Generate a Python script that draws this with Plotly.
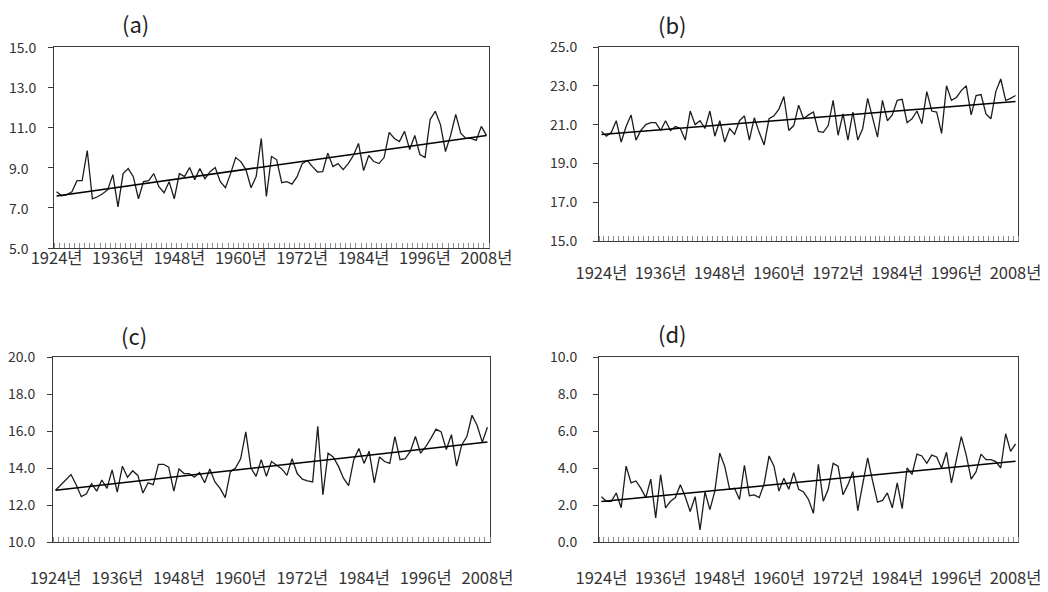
import numpy as np
import plotly.graph_objects as go

# ---------------- data ----------------
YEARS = list(range(1924, 2009))
LABEL_YEARS = [1924, 1936, 1948, 1960, 1972, 1984, 1996, 2008]
LABEL_TEXT = [f"{y}년" for y in LABEL_YEARS]
PANEL_TITLES = ["(a)", "(b)", "(c)", "(d)"]
Y_RANGES = [(5.0, 15.0), (15.0, 25.0), (10.0, 20.0), (0.0, 10.0)]

SERIES_A = [7.8, 7.6, 7.65, 7.8, 8.35, 8.35, 9.85, 7.45, 7.55, 7.7,
            7.9, 8.65, 7.05, 8.7, 8.95, 8.55, 7.45, 8.3, 8.35, 8.7,
            8.05, 7.75, 8.3, 7.45, 8.7, 8.55, 9.0, 8.4, 8.95, 8.45,
            8.8, 9.0, 8.3, 8.0, 8.7, 9.5, 9.3, 8.9, 8.0, 8.55,
            10.45,
            7.57, 9.55, 9.4, 8.25, 8.3, 8.18, 8.55, 9.2, 9.35, 9.05,
            8.78, 8.8, 9.72, 9.05, 9.2, 8.9, 9.2, 9.6, 10.2, 8.85,
            9.6, 9.3, 9.2, 9.5, 10.75, 10.45, 10.3, 10.8, 9.9, 10.6,
            9.65, 9.5, 11.4, 11.8, 11.15, 9.8, 10.6, 11.65, 10.7, 10.45,
            10.45, 10.35, 11.05, 10.6]

SERIES_B = [20.65, 20.4, 20.6, 21.2, 20.1, 20.9, 21.5, 20.2, 20.7, 21.0,
            21.1, 21.1, 20.7, 21.2, 20.7, 20.9, 20.8, 20.2, 21.7, 21.0,
            21.2, 20.8, 21.7, 20.4, 21.2, 20.1, 20.8, 20.5, 21.2, 21.45,
            20.2, 21.35, 20.6, 19.95, 21.3, 21.45, 21.8, 22.45,
            20.7, 20.95, 22.0, 21.3, 21.5, 21.65, 20.65, 20.6, 20.95, 22.25,
            20.45, 21.55, 20.2, 21.65, 20.2, 20.8, 22.35, 21.4, 20.35, 22.25,
            21.2, 21.5, 22.25, 22.3, 21.1, 21.3, 21.7, 21.05, 22.7, 21.7,
            21.65, 20.55, 23.0, 22.25, 22.4, 22.75, 23.0, 21.5, 22.5, 22.55,
            21.55, 21.3, 22.7, 23.35, 22.25, 22.35, 22.5]

SERIES_C = [12.8, 13.1, 13.4, 13.65, 13.1, 12.45, 12.6, 13.15, 12.75, 13.35,
            12.9, 13.9, 12.7, 14.1, 13.5, 13.85, 13.6, 12.65, 13.2, 13.1,
            14.2, 14.2, 14.05, 12.75, 13.95, 13.7, 13.7, 13.5, 13.75, 13.2,
            13.95, 13.25, 12.9, 12.4, 13.8, 14.0, 14.5, 15.95,
            14.0, 13.55, 14.45, 13.55, 14.35, 14.15, 13.95, 13.6, 14.5, 13.7,
            13.4, 13.3, 13.25, 16.25, 12.55, 14.8, 14.6, 14.1, 13.45, 13.05,
            14.45, 15.05, 14.25, 14.9, 13.2, 14.6, 14.35, 14.25, 15.7, 14.45,
            14.5, 14.9, 15.7, 14.8, 15.15, 15.6, 16.1, 15.95, 15.0, 15.8,
            14.1, 15.25, 15.7, 16.85, 16.3, 15.4, 16.2]

SERIES_D = [2.45, 2.2, 2.2, 2.65, 1.85, 4.1, 3.2, 3.3, 2.9, 2.4,
            3.4, 1.3, 3.65, 1.85, 2.2, 2.4, 3.1, 2.45, 1.65, 2.45,
            0.65, 2.7, 1.75, 2.75, 4.8, 4.1, 2.85, 2.9, 2.3, 4.15,
            2.5, 2.55, 2.4, 3.15, 4.65, 4.1, 2.75, 3.45,
            2.85, 3.75, 2.85, 2.7, 2.3, 1.55, 4.2, 2.2, 2.85, 4.25,
            4.1, 2.55, 3.1, 3.8, 1.7, 3.2, 4.55, 3.3, 2.15, 2.25,
            2.65, 1.85, 3.2, 1.8, 4.0, 3.65, 4.75, 4.65, 4.25, 4.7,
            4.6, 4.0, 4.85, 3.2, 4.55, 5.7, 4.7, 3.4, 3.8, 4.75,
            4.45, 4.45, 4.35, 4.0, 5.85, 4.9, 5.3]

ALL_SERIES = [SERIES_A, SERIES_B, SERIES_C, SERIES_D]

# ---------------- layout (pixels) ----------------
W, H = 1048, 592
PANELS = [
    dict(x0=54, x1=489, y0=47, y1=248, tx=135, ty=23, ystand=8, xstand=-5, left=7),
    dict(x0=599, x1=1018, y0=47, y1=241, tx=672, ty=24, ystand=13, xstand=17, left=None),
    dict(x0=53, x1=490, y0=357, y1=542, tx=134, ty=335, ystand=9, xstand=21, left=None),
    dict(x0=599, x1=1018, y0=357, y1=542, tx=672, ty=333, ystand=13, xstand=21, left=None),
]

FONT = "Noto Sans CJK KR, Malgun Gothic, sans-serif"
LINE_COL = "#1c1c1c"
AXIS_COL = "#3a3a3a"
TXT_COL = "#333333"

fig = go.Figure()
layout = dict(
    width=W, height=H, margin=dict(l=0, r=0, t=0, b=0, autoexpand=False),
    paper_bgcolor="white", plot_bgcolor="white",
    showlegend=False, font=dict(family=FONT, color=TXT_COL),
    annotations=[],
)

for k, (p, vals, title, yr) in enumerate(zip(PANELS, ALL_SERIES, PANEL_TITLES, Y_RANGES)):
    n = "" if k == 0 else str(k + 1)
    xs = YEARS[:len(vals)]
    fig.add_trace(go.Scatter(
        x=xs, y=vals, mode="lines",
        line=dict(color=LINE_COL, width=1.3),
        xaxis="x" + n, yaxis="y" + n, hoverinfo="x+y"))
    coef = np.polyfit(xs, vals, 1)
    fig.add_trace(go.Scatter(
        x=[xs[0], xs[-1]], y=list(np.polyval(coef, [xs[0], xs[-1]])),
        mode="lines", line=dict(color="#000000", width=1.5),
        xaxis="x" + n, yaxis="y" + n, hoverinfo="skip"))

    ytv = [float(v) for v in np.arange(yr[0], yr[1] + 0.01, 2.0)]
    ytt = [f"{v:.1f}" for v in ytv]
    left_aligned = p["left"] is not None

    layout["xaxis" + n] = dict(
        domain=[p["x0"] / W, p["x1"] / W],
        anchor="y" + n, automargin=False,
        range=[YEARS[0] - 0.5, YEARS[-1] + 0.5],
        tickmode="array", tickvals=LABEL_YEARS, ticktext=LABEL_TEXT,
        ticks="", showgrid=False, zeroline=False,
        showline=True, linecolor=AXIS_COL, linewidth=1, mirror=True,
        tickfont=dict(size=16.5, color=TXT_COL, family=FONT),
        ticklabelstandoff=p["xstand"],
        minor=dict(ticks="inside", tickmode="linear", tick0=YEARS[0] - 0.5,
                   dtick=1, ticklen=5, tickcolor="#8a8a8a", tickwidth=1,
                   showgrid=False),
        fixedrange=True,
    )
    layout["yaxis" + n] = dict(
        domain=[1 - p["y1"] / H, 1 - p["y0"] / H],
        anchor="x" + n, automargin=False,
        range=list(yr), tickmode="array", tickvals=ytv, ticktext=ytt,
        showticklabels=not left_aligned,
        ticks="outside", ticklen=5, tickcolor=AXIS_COL,
        showgrid=False, zeroline=False,
        showline=True, linecolor=AXIS_COL, linewidth=1, mirror=True,
        tickfont=dict(size=14, color=TXT_COL, family=FONT),
        ticklabelstandoff=p["ystand"],
        fixedrange=True,
    )
    if left_aligned:
        # panel (a) shows its value labels left-aligned
        for v, t in zip(ytv, ytt):
            layout["annotations"].append(dict(
                text=t, xref="paper", yref="y" + n, x=p["left"] / W, y=v,
                xanchor="left", yanchor="middle", showarrow=False,
                font=dict(size=14, color=TXT_COL, family=FONT)))
    layout["annotations"].append(dict(
        text=title, xref="paper", yref="paper",
        x=p["tx"] / W, y=1 - p["ty"] / H, xanchor="center", yanchor="middle",
        showarrow=False, font=dict(size=22, color="#222222", family=FONT)))

fig.update_layout(**layout)
fig.write_html("out.html",
               config={"displayModeBar": False},
               post_script="document.body.style.margin='0px';"
                           "document.body.style.padding='0px';")
